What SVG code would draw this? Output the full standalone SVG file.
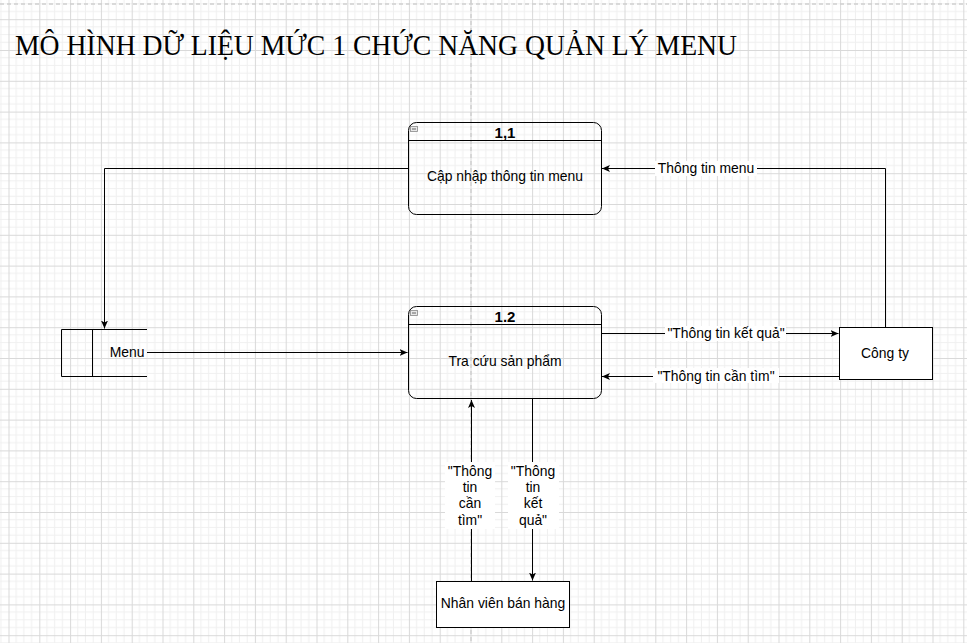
<svg xmlns="http://www.w3.org/2000/svg" width="967" height="643" viewBox="0 0 967 643">
<defs>
<pattern id="grid" patternUnits="userSpaceOnUse" x="8.5" y="19.2" width="30.8" height="30.8">
<rect width="30.8" height="30.8" fill="#ffffff"/>
<path d="M7.7,0V30.8M15.4,0V30.8M23.1,0V30.8M0,7.7H30.8M0,15.4H30.8M0,23.1H30.8" stroke="#f0f0f0" stroke-width="1" fill="none"/>
<path d="M0.5,0V30.8M0,0.5H30.8" stroke="#d9d9d9" stroke-width="1" fill="none"/>
</pattern>
<marker id="arr" markerUnits="userSpaceOnUse" markerWidth="10" markerHeight="10" refX="8" refY="4" orient="auto">
<path d="M0,0.5 L8,4 L0,7.5 L2,4 Z" fill="#000"/>
</marker>
<style>
.lbl{font-family:"Liberation Sans",Arial,sans-serif;font-size:13.9px;fill:#000;text-anchor:middle}
.ttl{font-family:"Liberation Sans",Arial,sans-serif;font-size:15px;font-weight:bold;fill:#000;text-anchor:middle}
.box{fill:none;stroke:#000;stroke-width:1}
.edge{fill:none;stroke:#000;stroke-width:1;marker-end:url(#arr)}
.bg{fill:#fff}
</style>
</defs>
<rect width="967" height="643" fill="url(#grid)"/>
<path d="M471,0V643M0,4H967" stroke="#d0d0d0" stroke-width="1.5" stroke-dasharray="4 3" fill="none"/>

<text x="15" y="55" font-family="'Liberation Serif','Times New Roman',serif" font-size="30" textLength="722" lengthAdjust="spacingAndGlyphs" fill="#000">MÔ HÌNH DỮ LIỆU MỨC 1 CHỨC NĂNG QUẢN LÝ MENU</text>

<g id="connectors">
<path class="edge" d="M408.5,168.5H104.5V328.5"/>
<path class="edge" d="M147,352.5H407.5"/>
<path class="edge" d="M885.5,327V168.5H602"/>
<path class="edge" d="M601.5,333.5H838.5"/>
<path class="edge" d="M839,376.5H602"/>
<path class="edge" d="M471.5,581V400"/>
<path class="edge" d="M532.5,399V580.5"/>
<rect class="bg" x="655" y="161" width="102" height="15"/>
<text class="lbl" x="706" y="172.8">Thông tin menu</text>
<rect class="bg" x="665" y="326" width="121" height="15"/>
<text class="lbl" x="726" y="338.1">"Thông tin kết quả"</text>
<rect class="bg" x="653" y="368" width="126" height="15"/>
<text class="lbl" x="716" y="380.6">"Thông tin cần tìm"</text>
<rect class="bg" x="445" y="462" width="50" height="67"/>
<text class="lbl" x="470" y="475.5">"Thông</text>
<text class="lbl" x="470" y="491.9">tin</text>
<text class="lbl" x="470" y="508.3">cần</text>
<text class="lbl" x="470" y="524.7">tìm"</text>
<rect class="bg" x="508" y="462" width="51" height="67"/>
<text class="lbl" x="533" y="475.5">"Thông</text>
<text class="lbl" x="533" y="491.9">tin</text>
<text class="lbl" x="533" y="508.3">kết</text>
<text class="lbl" x="533" y="524.7">quả"</text>
</g>

<g id="node-1-1">
<rect class="box" x="408.5" y="122.5" width="193" height="92" rx="8" ry="8"/>
<path d="M408.5,140.5H601.5" stroke="#000" stroke-width="1"/>
<rect x="410.5" y="126.5" width="7" height="5" fill="#e8e8e8" stroke="#888" stroke-width="0.8"/>
<path d="M412,129H416" stroke="#444" stroke-width="0.8"/>
<text class="ttl" x="505" y="137.5">1,1</text>
<text class="lbl" x="505" y="180.6">Cập nhập thông tin menu</text>
</g>

<g id="node-1-2">
<rect class="box" x="408.5" y="306.5" width="193" height="92" rx="8" ry="8"/>
<path d="M408.5,324.5H601.5" stroke="#000" stroke-width="1"/>
<rect x="410.5" y="310.5" width="7" height="5" fill="#e8e8e8" stroke="#888" stroke-width="0.8"/>
<path d="M412,313H416" stroke="#444" stroke-width="0.8"/>
<text class="ttl" x="505" y="322">1.2</text>
<text class="lbl" x="505" y="365.6">Tra cứu sản phẩm</text>
</g>

<g id="menu-store">
<path class="box" d="M147,329.5H61.5V376.5H147M92.5,329.5V376.5"/>
<text class="lbl" x="127" y="357.1">Menu</text>
</g>

<g id="cong-ty">
<rect class="box" x="839.5" y="327.5" width="93" height="52" style="fill:#fff"/>
<text class="lbl" x="885" y="357.9">Công ty</text>
</g>

<g id="nhan-vien">
<rect class="box" x="436.5" y="581.5" width="133" height="46" style="fill:#fff"/>
<text class="lbl" x="503" y="608.1">Nhân viên bán hàng</text>
</g>
</svg>
